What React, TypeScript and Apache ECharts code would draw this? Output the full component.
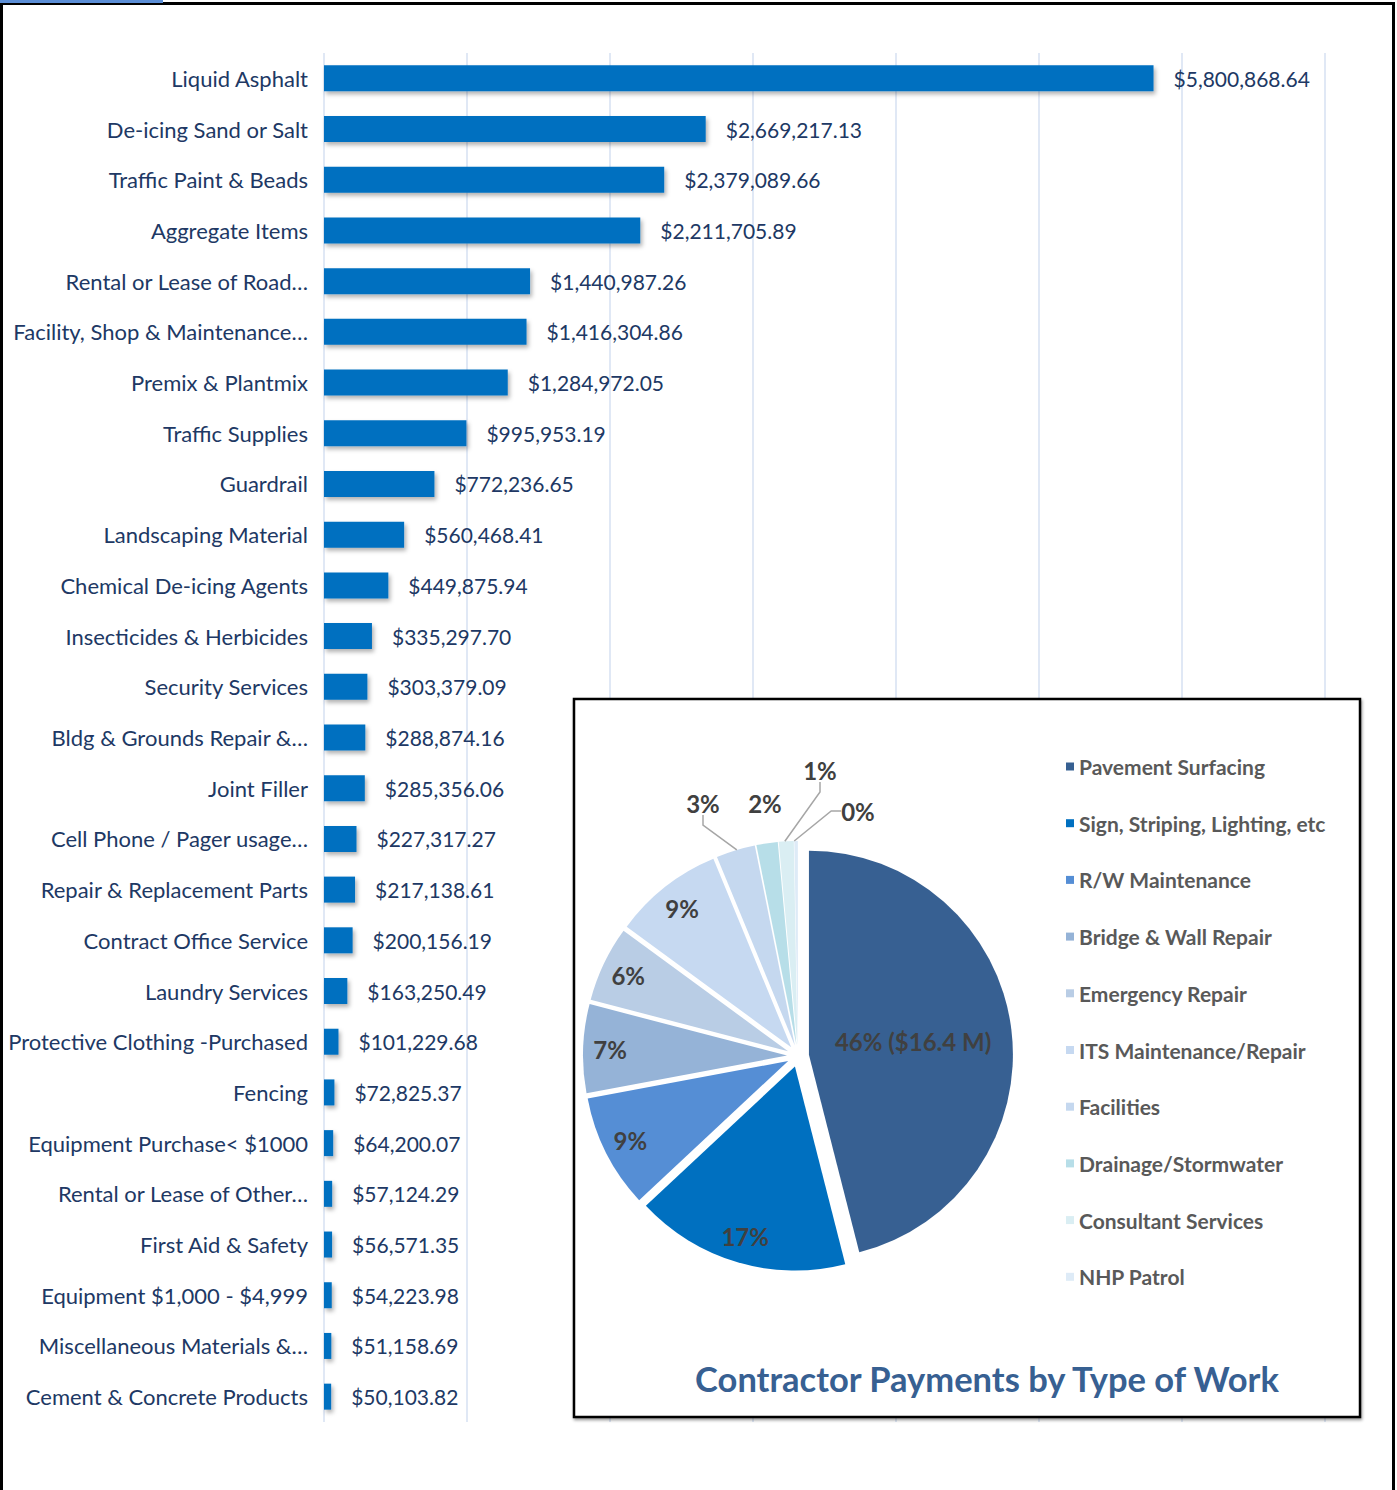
import React, { useEffect, useRef } from "react";
import * as echarts from "echarts";

// ---------- data ----------
const categories = [
  "Liquid Asphalt",
  "De-icing Sand or Salt",
  "Traffic Paint & Beads",
  "Aggregate Items",
  "Rental or Lease of Road…",
  "Facility, Shop & Maintenance…",
  "Premix & Plantmix",
  "Traffic Supplies",
  "Guardrail",
  "Landscaping Material",
  "Chemical De-icing Agents",
  "Insecticides & Herbicides",
  "Security Services",
  "Bldg & Grounds Repair &…",
  "Joint Filler",
  "Cell Phone / Pager usage…",
  "Repair & Replacement Parts",
  "Contract Office Service",
  "Laundry Services",
  "Protective Clothing -Purchased",
  "Fencing",
  "Equipment Purchase< $1000",
  "Rental or Lease of Other…",
  "First Aid & Safety",
  "Equipment $1,000 - $4,999",
  "Miscellaneous Materials &…",
  "Cement & Concrete Products",
];

const amounts = [
  5800868.64, 2669217.13, 2379089.66, 2211705.89, 1440987.26, 1416304.86,
  1284972.05, 995953.19, 772236.65, 560468.41, 449875.94, 335297.7, 303379.09,
  288874.16, 285356.06, 227317.27, 217138.61, 200156.19, 163250.49, 101229.68,
  72825.37, 64200.07, 57124.29, 56571.35, 54223.98, 51158.69, 50103.82,
];

const xAxisMax = 7000000;
const xAxisStep = 1000000;

const workTypes = [
  "Pavement Surfacing",
  "Sign, Striping, Lighting, etc",
  "R/W Maintenance",
  "Bridge & Wall Repair",
  "Emergency Repair",
  "ITS Maintenance/Repair",
  "Facilities",
  "Drainage/Stormwater",
  "Consultant Services",
  "NHP Patrol",
];
// millions of dollars
const workValues = [16.4, 6.06, 3.21, 2.5, 2.14, 3.1, 1.1, 0.6, 0.42, 0.1];
const workColors = [
  "#376092",
  "#0070C0",
  "#558ED5",
  "#95B3D7",
  "#B9CDE5",
  "#C6D9F1",
  "#C5D8EF",
  "#B7DEE8",
  "#DAEEF3",
  "#DEEBF7",
];

const pieTitle = "Contractor Payments by Type of Work";

// ---------- style ----------
const FONT = "Lato, 'Open Sans', sans-serif";
const NAVY = "#203864";
const GRID_COLOR = "#D6E1F2";
const PIE_CX = 798;
const PIE_CY = 1056;
const PIE_R = 204;
const EXPLODE = 11;
// outside label centres relative to the pie centre (small slices)
const OUT_LABEL_OFFSETS: Record<number, [number, number]> = {
  6: [-95, -253],
  7: [-33, -253],
  8: [22, -286],
  9: [60, -245],
};

const money = (v: number) =>
  "$" + v.toLocaleString("en-US", { minimumFractionDigits: 2, maximumFractionDigits: 2 });

export default function App() {
  const ref = useRef<HTMLDivElement>(null);

  useEffect(() => {
    document.body.style.margin = "0";
    if (!ref.current) return;
    const chart = echarts.init(ref.current, undefined, { renderer: "svg" });

    const pieLabelStyle = {
      color: "#404040",
      fontWeight: "bold",
      fontSize: 24,
      fontFamily: FONT,
    };

    const option: any = {
      animation: false,
      backgroundColor: "#ffffff",
      grid: {
        left: 324,
        right: 72,
        top: 53,
        bottom: 68,
        containLabel: false,
        outerBoundsMode: "none",
      },
      xAxis: {
        type: "value",
        min: 0,
        max: xAxisMax,
        interval: xAxisStep,
        axisLabel: { show: false },
        axisLine: { show: false },
        axisTick: { show: false },
        splitLine: { show: true, lineStyle: { color: GRID_COLOR, width: 1.5 } },
      },
      yAxis: {
        type: "category",
        data: categories,
        inverse: true,
        axisLine: { show: false },
        axisTick: { show: false },
        axisLabel: {
          margin: 16,
          color: NAVY,
          fontSize: 22,
          fontFamily: FONT,
        },
      },
      legend: {
        data: workTypes,
        orient: "vertical",
        left: 1061,
        top: 751,
        itemWidth: 8,
        itemHeight: 8,
        icon: "rect",
        itemGap: 35.7,
        selectedMode: false,
        textStyle: {
          color: "#595959",
          fontWeight: "bold",
          fontSize: 21,
          lineHeight: 21,
          fontFamily: FONT,
        },
      },
      graphic: [
        {
          type: "rect",
          z: 1,
          shape: { x: 574, y: 699, width: 786, height: 718 },
          style: {
            fill: "#ffffff",
            stroke: "#000000",
            lineWidth: 2.5,
            shadowBlur: 3,
            shadowOffsetX: 1,
            shadowOffsetY: 2,
            shadowColor: "rgba(0,0,0,0.4)",
          },
        },
        {
          type: "text",
          z: 10,
          x: 987,
          y: 1378,
          style: {
            text: pieTitle,
            align: "center",
            verticalAlign: "middle",
            fill: "#376092",
            font: `bold 34.5px ${FONT}`,
          },
        },
        {
          type: "rect",
          z: 10,
          shape: { x: 1.5, y: 3.5, width: 1392, height: 1495 },
          style: { fill: "none", stroke: "#000000", lineWidth: 3 },
        },
        {
          type: "rect",
          z: 11,
          shape: { x: 0, y: 0, width: 163, height: 3 },
          style: { fill: "#5B8ED6" },
        },
      ],
      series: [
        {
          type: "bar",
          data: amounts,
          barWidth: 26,
          z: 2,
          itemStyle: {
            color: "#0070C0",
            shadowBlur: 4,
            shadowOffsetX: 2,
            shadowOffsetY: 3,
            shadowColor: "rgba(0,0,0,0.3)",
          },
          label: {
            show: true,
            position: "right",
            distance: 20,
            color: NAVY,
            fontSize: 21,
            fontFamily: FONT,
            formatter: (p: any) => money(p.value),
          },
        },
        // visible, exploded pie
        {
          type: "pie",
          z: 3,
          center: [PIE_CX, PIE_CY],
          radius: [0, PIE_R],
          startAngle: 90,
          clockwise: true,
          selectedMode: "multiple",
          selectedOffset: EXPLODE,
          percentPrecision: 0,
          avoidLabelOverlap: false,
          emphasis: { disabled: true },
          select: { itemStyle: { borderWidth: 0 } },
          label: { ...pieLabelStyle, formatter: "{d}%" },
          labelLine: { show: false },
          data: workTypes.map((name, i) => ({
            name,
            value: workValues[i],
            selected: true,
            itemStyle: { color: workColors[i] },
            label:
              i === 0
                ? {
                    show: true,
                    position: "inside",
                    formatter: (p: any) => `${p.percent}% ($${p.value} M)`,
                  }
                : { show: false },
          })),
        },
        // label carrier for the mid-size slices (labels nearer the rim)
        {
          type: "pie",
          z: 4,
          silent: true,
          legendHoverLink: false,
          center: [PIE_CX, PIE_CY],
          radius: [144, PIE_R],
          startAngle: 90,
          clockwise: true,
          selectedMode: "multiple",
          selectedOffset: EXPLODE,
          percentPrecision: 0,
          emphasis: { disabled: true },
          select: { itemStyle: { borderWidth: 0, color: "rgba(0,0,0,0)" } },
          itemStyle: { color: "rgba(0,0,0,0)" },
          label: { ...pieLabelStyle, position: "inside", formatter: "{d}%" },
          labelLine: { show: false },
          data: workTypes.map((name, i) => ({
            name,
            value: workValues[i],
            selected: true,
            label: { show: i >= 1 && i <= 5 },
          })),
        },
        // label carrier for the small slices at the top (outside labels)
        {
          type: "pie",
          z: 5,
          silent: true,
          legendHoverLink: false,
          center: [PIE_CX - 2, PIE_CY - EXPLODE],
          radius: [0, PIE_R],
          startAngle: 90,
          clockwise: true,
          percentPrecision: 0,
          avoidLabelOverlap: false,
          emphasis: { disabled: true },
          itemStyle: { color: "rgba(0,0,0,0)" },
          label: { ...pieLabelStyle, position: "outside", formatter: "{d}%" },
          labelLine: {
            show: true,
            length: 10,
            length2: 10,
            lineStyle: { color: "#A6A6A6", width: 1.5 },
          },
          labelLayout: (p: any) => {
            const off = OUT_LABEL_OFFSETS[p.dataIndex];
            if (!off) return {};
            return {
              x: PIE_CX + off[0],
              y: PIE_CY + off[1],
              align: "center",
              verticalAlign: "middle",
            };
          },
          data: workTypes.map((name, i) => ({
            name,
            value: workValues[i],
            label: { show: i >= 6 },
            labelLine: { show: i >= 6 && i !== 7 },
          })),
        },
      ],
    };

    chart.setOption(option);
    return () => chart.dispose();
  }, []);

  return <div ref={ref} style={{ width: 1397, height: 1490 }} />;
}
